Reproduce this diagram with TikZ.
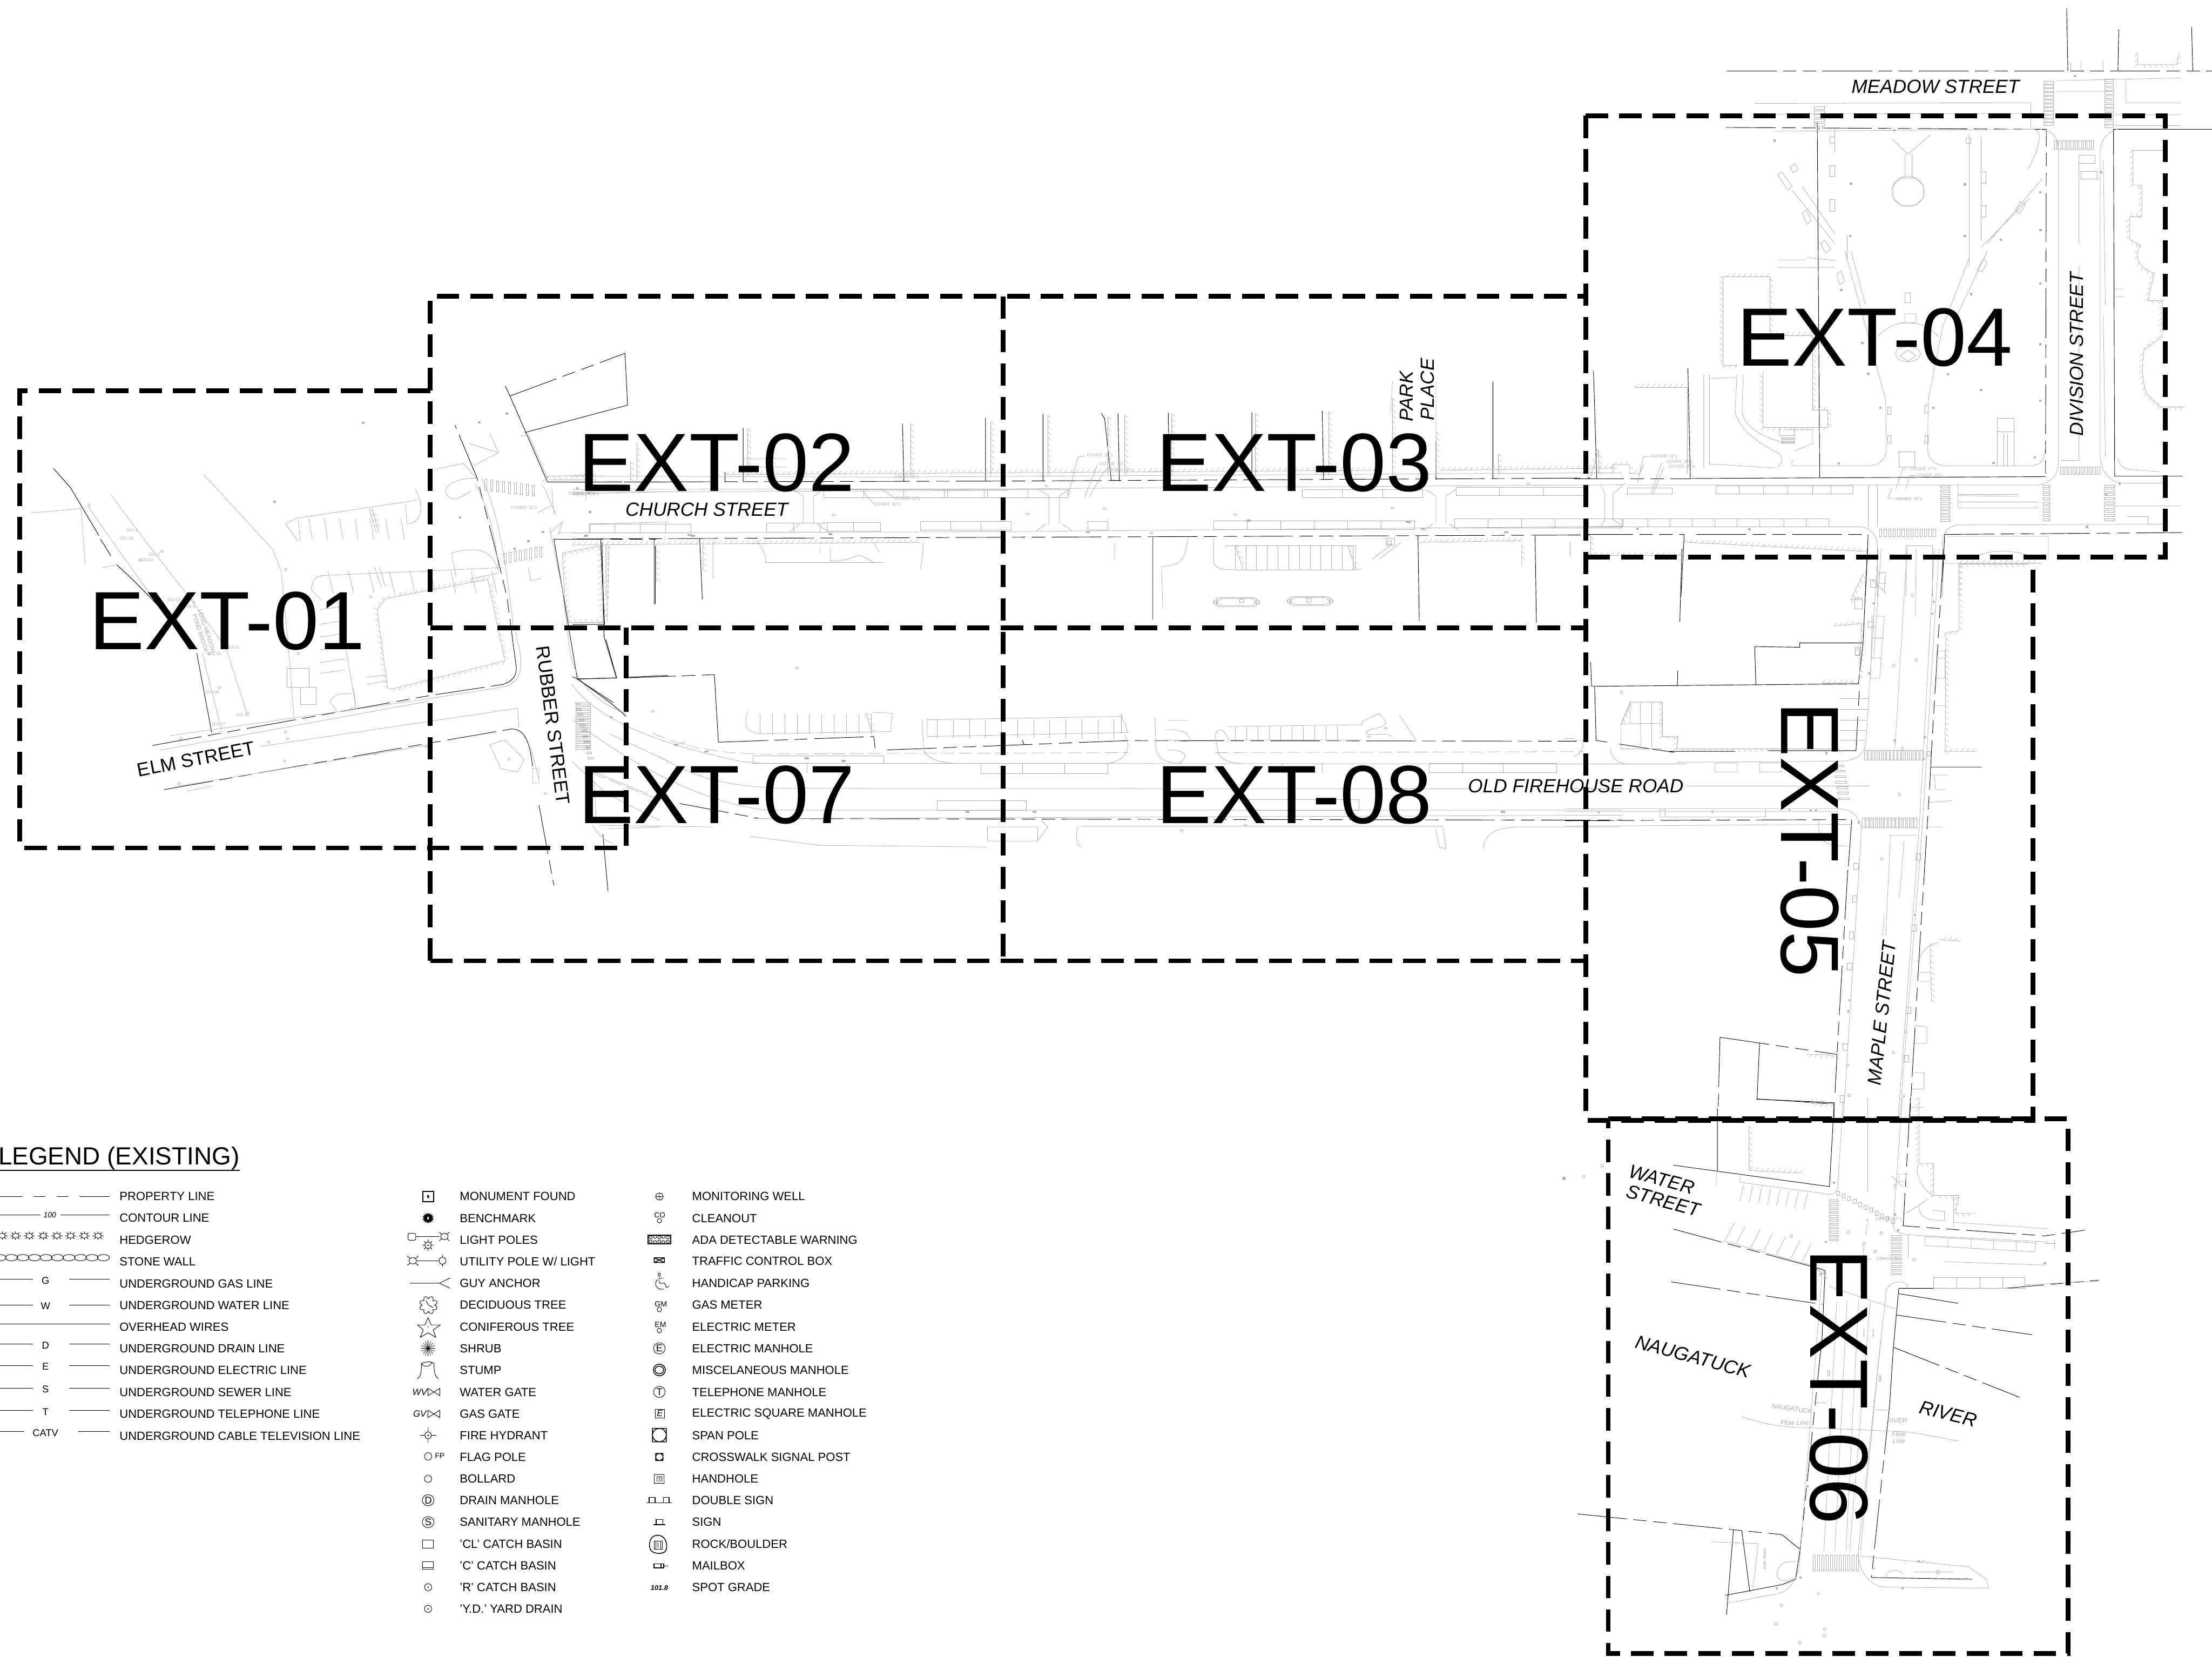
\documentclass[tikz,border=0pt]{standalone}
\usepackage{fontspec}
\setmainfont{Liberation Sans}
\usetikzlibrary{decorations.pathreplacing}
\definecolor{plangrey}{gray}{0.68}
\newcommand\spots[1]{\foreach \a/\b in {#1}{\fill[spot] (\a-3,\b-3) rectangle (\a+3,\b+3);}}
\newcommand\crosswalk[7]{\foreach \i in {1,...,#7}{\draw[gl] ({#1+(\i-1)*#3},{#2+(\i-1)*#4}) rectangle ++(#5,#6);}}
\newcommand\stalls[6]{\foreach \i in {1,...,#5}{\draw[gl] ({#1+(\i-1)*#3},#2) -- ++(#6,#4);}}
\tikzset{
  bl/.style={draw=black,line width=.3pt},
  pl/.style={bl,dash pattern=on 30pt off 4pt on 8pt off 4pt on 8pt off 4pt},
  gl/.style={draw=plangrey,line width=.25pt},
  gd/.style={gl,dash pattern=on 9pt off 2pt},
  spot/.style={fill=gray!60},
  hatchwall/.style={gl,postaction={draw=plangrey,line width=.18pt,decorate,decoration={border,segment length=3.4pt,amplitude=2.6pt,angle=50}}},
  hatchwallr/.style={gl,postaction={draw=plangrey,line width=.18pt,decorate,decoration={border,segment length=3.4pt,amplitude=2.6pt,angle=50,mirror}}},
  frame/.style={draw=black,line width=2.9pt,dash pattern=on 13.6pt off 6.7pt,line cap=butt},
  sheet/.style={inner sep=0pt,font=\fontsize{50}{50}\selectfont},
  street/.style={inner sep=0pt,font=\fontsize{11.5}{12}\selectfont,align=center},
  streeti/.style={street,font=\fontsize{11.5}{12}\selectfont\itshape},
  tiny/.style={inner sep=0pt,text=plangrey,font=\fontsize{2.6}{3}\selectfont},
  small/.style={inner sep=0pt,text=plangrey,font=\fontsize{4}{4.5}\selectfont\itshape},
  leg/.style={anchor=west,inner sep=0pt,font=\fontsize{7.2}{8}\selectfont},
  sym/.style={inner sep=0pt,font=\fontsize{6}{7}\selectfont},
  ll/.style={draw=black,line width=.3pt},
  zf/.style={shift={(1116,0)},xscale=.2884,yscale=.2696},
  zv/.style={shift={(0,236.7)},xscale=.302,yscale=.2588},
  zx/.style={shift={(1082,777.8)},xscale=.2588,yscale=.253},
  zs/.style={shift={(405.8,270.5)},xscale=.4745,yscale=.2373},
  ze/.style={shift={(1109.2,388.9)},xscale=.2157,yscale=.2588},
  zl/.style={shift={(0,798.1)},xscale=.1941,yscale=.151},
  zm/.style={shift={(280.7,831.9)},xscale=.1294,yscale=.207},
  zr/.style={shift={(449.8,831.9)},xscale=.1294,yscale=.207},
}
\begin{document}
\begin{tikzpicture}[x=.3mm,y=-.3mm]
\useasboundingbox (0,0) rectangle (1568,1174.4);
\fill[white] (0,0) rectangle (1568,1174.4);

%% ------- top right: the green, Meadow and Division Streets
\begin{scope}[zf]
 \draw[pl] (375,186) -- (1568,186);
 \draw[bl] (1210,22) -- (1213,186) (1338,78) -- (1336,186) (1517,70) -- (1520,186);
 \draw[pl] (373,335) -- (1160,340) -- (1158,1253);
 \draw[bl] (1158,1253) -- (285,1258);
 \draw[bl] (597,322) -- (603,1255) (279,968) -- (285,1258) (47,975) -- (55,1258);
 \draw[pl] (0,1258) -- (285,1258);
 \draw[bl] (1568,340) -- (1325,340) -- (1328,1252) -- (1495,1252);
 \draw[pl] (22,1405) -- (270,1405) (300,1405) -- (722,1405) (910,1405) -- (1495,1400);
 \draw[bl] (270,1405) -- (262,1568) (722,1405) -- (715,1568) (910,1405) -- (905,1530);
 % Meadow
 \draw[gl] (443,272) -- (1122,270) -- (1122,335) (443,300) -- (1120,298);
 \draw[gl] (1185,212) -- (1490,205) (1185,240) -- (1310,240) (1355,210) -- (1355,270) -- (1490,270)
   (1330,302) -- (1490,302) (1330,330) -- (1490,330) (1220,165) -- (1220,186) (1245,160) -- (1245,186) (1300,158) -- (1300,186);
 \crosswalk{590}{280}{0}{11}{24}{7}{5}
 \crosswalk{1153}{213}{0}{10}{24}{7}{12}
 \crosswalk{1303}{208}{0}{11}{22}{7}{12}
 \draw[hatchwallr] (1385,140) -- (1385,170) -- (1480,170) -- (1485,140);
 % green
 \draw[gl] (1145,340) .. controls (1180,345) and (1190,365) .. (1190,400) -- (1190,1210) .. controls (1190,1260) and (1160,1275) .. (1130,1275) -- (130,1275);
 \draw[gl] (490,345) -- (1130,340) .. controls (1150,345) and (1148,380) .. (1115,445);
 \draw[gl] (820,405) -- (780,365) (820,405) -- (875,355) (813,405) -- (813,465) (830,405) -- (830,465);
 \draw[gl] (820,503) circle[radius=40];
 \draw[gl] (803,468) -- (838,468) -- (858,488) -- (858,520) -- (838,540) -- (803,540) -- (783,520) -- (783,488) -- cycle;
 \draw[gl] (560,490) -- (640,615) (665,660) -- (765,1050) -- (767,1180) .. controls (767,1210) and (745,1225) .. (720,1225) -- (540,1225) .. controls (530,1222) and (535,1210) .. (538,1210);
 \draw[gl] (535,500) -- (640,640) (680,660) -- (715,800) (1150,470) -- (1015,640) (1120,520) -- (1000,650) (1015,660) -- (940,830) (970,680) -- (905,860) -- (870,1050) -- (868,1180) .. controls (868,1210) and (890,1225) .. (920,1225) -- (1125,1225) .. controls (1150,1220) and (1155,1210) .. (1158,1170);
 \draw[gl] (640,400) -- (640,340) (670,680) -- (670,620) (970,350) -- (970,700) (1000,360) -- (1000,630);
 \foreach \a/\b/\w/\h in {628/435/12/28,628/525/12/30,1000/452/12/30,1000/540/12/30,962/362/12/15,628/360/12/15,1240/408/40/22,1245/450/40/20,798/1188/38/40,812/770/14/25,770/1070/8/20,770/1145/8/20,862/1065/8/20,862/1145/8/20}
   {\draw[gl] (\a,\b) rectangle ++(\w,\h);}
 \draw[gl] (745,885) .. controls (790,835) and (850,835) .. (895,885) (800,850) -- (840,850) -- (840,825) -- (812,825) -- (812,850);
 \draw[gl] (790,930) .. controls (790,905) and (850,905) .. (850,930) .. controls (850,955) and (790,960) .. (790,930) (820,920) -- (840,935) -- (820,950) -- (800,935) -- cycle;
 \draw[gl] (500,460) -- (510,452) -- (535,490) -- (525,500) -- cycle (530,440) -- (542,430) -- (550,445) -- (538,455) -- cycle (560,560) -- (570,552) -- (582,580) -- (572,590) -- cycle (605,640) -- (615,632) -- (630,655) -- (618,665) -- cycle (645,720) -- (655,712) -- (665,740) -- (652,748) -- cycle (1085,555) -- (1095,530) -- (1108,538) -- (1095,562) -- cycle (990,710) -- (1005,680) -- (1015,690) -- (1002,715) -- cycle;
 \draw[gl] (500,683) -- (570,683) (500,703) -- (640,703) (570,677) -- (642,685);
 \draw[hatchwall] (400,960) -- (365,960) -- (365,727) -- (480,727) -- (480,882) -- (585,882) -- (585,1078) -- (622,1078) -- (622,1123) -- (463,1123) -- (463,975);
 \draw[gl] (465,1123) -- (505,1123) -- (505,1145) -- (540,1145) -- (540,1123) (510,1150) rectangle (540,1165);
 \foreach \i in {1,...,5}{\draw[gl] (510,{1148+3*\i}) -- (540,{1148+3*\i});}
 \draw[gl] (400,985) -- (395,1075) .. controls (395,1120) and (450,1165) .. (500,1190) .. controls (515,1200) and (510,1220) .. (500,1228) (415,985) -- (412,1080) .. controls (415,1120) and (460,1150) .. (520,1165) (332,985) -- (332,1220) -- (495,1230) (318,985) -- (318,1230) (335,995) -- (395,992) (540,1185) -- (590,1165) (520,1130) -- (585,1130) -- (585,1165);
 \draw[hatchwall] (150,1018) -- (277,1018) -- (277,1245);
 \draw[hatchwall] (38,1258) -- (60,1185) -- (60,1245) (95,1245) -- (95,1222) -- (135,1222) -- (135,1245) -- (160,1245) -- (170,1222);
 \draw[gl] (1040,1225) -- (1040,1100) -- (1080,1100) -- (1080,1225) (1055,1140) -- (1055,1225) (1065,1140) -- (1065,1225) (1040,1135) -- (1080,1135);
 \draw[gl] (1195,1210) -- (1240,1210) -- (1240,700) (1240,410) -- (1240,640);
 \crosswalk{1180}{370}{10}{0}{6}{22}{10}
 \crosswalk{1195}{1227}{10}{0}{6}{20}{10}
 % Division east
 \draw[gl] (1292,400) -- (1292,1200) .. controls (1295,1245) and (1320,1270) .. (1350,1270) -- (1460,1270);
 \draw[gl] (1292,400) .. controls (1292,370) and (1310,345) .. (1340,338) -- (1455,338) (1300,420) -- (1305,800) (1300,830) -- (1305,1200) (1335,1205) .. controls (1340,1230) and (1360,1235) .. (1370,1235) -- (1440,1240) (1328,760) -- (1350,760) (1330,780) -- (1350,780);
 \draw[hatchwallr] (1373,395) -- (1373,487) -- (1395,487) -- (1395,570) -- (1365,570) -- (1365,630) -- (1392,645) .. controls (1375,670) and (1385,705) .. (1425,718) -- (1410,790) -- (1445,790) -- (1445,885) -- (1400,920) .. controls (1395,960) and (1395,1000) .. (1405,1030) .. controls (1415,1050) and (1440,1065) .. (1440,1070) -- (1500,1070);
 \draw[gl] (1373,395) -- (1460,395);
 % Church / junction
 \draw[gl] (20,1385) -- (700,1385) .. controls (730,1385) and (745,1410) .. (745,1440) -- (745,1568);
 \draw[gl] (905,1568) -- (905,1425) .. controls (905,1395) and (925,1380) .. (950,1380) -- (1460,1378);
 \draw[gl] (722,1275) -- (722,1385) (745,1275) -- (745,1385);
 \draw[gl] (120,1363) rectangle (625,1385) (130,1282) rectangle (240,1298) (348,1277) rectangle (685,1298);
 \foreach \a in {180,235,290,345,400,455,515,570}{\draw[gl] (\a,1363) -- (\a,1385);}
 \foreach \a in {405,465,525,585,630}{\draw[gl] (\a,1277) -- (\a,1298);}
 \draw[gl] (65,1275) -- (75,1298) -- (75,1365) -- (65,1385) (95,1298) -- (95,1365) (95,1298) -- (125,1270) (95,1365) -- (120,1385);
 \crosswalk{900}{1277}{0}{11}{22}{6}{9}
 \crosswalk{750}{1390}{11}{0}{6}{20}{13}
 \crosswalk{1152}{1275}{0}{11}{16}{6}{9}
 \crosswalk{1302}{1275}{0}{11}{26}{6}{9}
 \draw[gl] (943,1270) -- (943,1335) -- (1140,1335) (943,1303) -- (1090,1305) (1330,1330) -- (1490,1330) (1360,1358) -- (1410,1358) -- (1410,1378);
 \draw[hatchwall] (40,1410) -- (40,1460) -- (265,1460) (265,1425) -- (720,1450);
 \draw[hatchwallr] (945,1568) -- (945,1483) -- (1115,1483);
 \draw[gl] (815,1435) -- (880,1435) -- (880,1568) (815,1435) -- (815,1568);
 \draw[gl] (915,1410) -- (1165,1410) -- (1165,1470) (985,1470) .. controls (990,1445) and (1100,1440) .. (1130,1470);
 \draw[gl] (780,1285) -- (770,1310) -- (820,1312) (790,1285) -- (808,1232) -- (820,1232) (815,1285) -- (825,1250) -- (838,1250);
 \draw[gl] (155,1270) -- (170,1200) -- (185,1200) (188,1300) -- (215,1215) (193,1300) -- (220,1228);
 \draw[gl] (942,1300) -- (1090,1300) (945,1320) -- (1140,1320);
 \spots{492/370,680/483,960/485,678/620,960/620,1048/630,1146/605,1145/505,1145/745,1145/905,1145/1053,1132/1203,975/773,656/762,708/902,722/983,918/984,1000/1025,882/1072,752/1072,650/1218,1030/1217,787/342,600/338,1295/453,1307/1300,1340/1272,1260/1385,285/1212,155/1390,430/1392,1230/200}
 \node[tiny,anchor=west] (c1) at (188,1200) {COVER: 24"±};
 \node[tiny,anchor=west] (c2) at (225,1213) {COVER: 36"±};
 \node[tiny,anchor=west] (c3) at (232,1226) {COVER: 24"±};
 \node[tiny,anchor=west] (c4) at (825,1232) {COVER: 27"±};
 \node[tiny,anchor=west] (c5) at (840,1249) {COVER: 28"±};
 \node[tiny,anchor=west] (c6) at (790,1311) {COVER: 30"±};
\end{scope}

%% ------- west end: Elm Street, Rubber Street
\begin{scope}[zv]
 \draw[bl] (126,369) -- (165,420) -- (232,552) (236,562) -- (260,607) (274,632) -- (316,678) -- (372,745) (462,875) -- (497,1092);
 \draw[pl] (358,1127) -- (1010,990) -- (1180,960);
 \draw[bl] (1180,960) .. controls (1205,950) and (1212,935) .. (1212,915);
 \draw[pl] (1212,915) -- (1190,720) -- (1165,600) -- (1120,395) -- (1068,250);
 \draw[pl] (385,1248) -- (1010,1120) -- (1200,1082);
 \draw[bl] (1200,1082) .. controls (1235,1080) and (1245,1130) .. (1250,1185);
 \draw[bl] (1186,143) -- (1197,170) -- (1285,405);
 \draw[pl] (1285,405) -- (1568,405);
 \draw[pl] (1197,170) -- (1467,53);
 \draw[bl] (1467,53) -- (1473,195) -- (1232,270);
 \draw[bl] (1300,562) -- (1320,700) -- (1355,945) -- (1447,942) -- (1418,830) -- (1413,570);
 \draw[pl] (1300,562) -- (1540,562);
 \draw[bl] (1355,945) -- (1440,1010) (1538,580) -- (1538,740);
 \draw[pl] (1476,940) -- (1568,935);
 \draw[bl] (1415,1370) -- (1427,1525);
 \draw[pl] (1265,1290) -- (1300,1510);
 % grey
 \draw[gl] (75,490) -- (190,478) -- (200,632) (240,640) -- (275,632);
 \draw[gl] (205,470) -- (280,595) -- (400,790) (260,440) -- (330,550) -- (450,730) -- (530,860) -- (580,1040);
 \draw[gl] (478,385) -- (640,590) -- (660,650) -- (680,900) -- (690,1050);
 \draw[gl] (475,875) -- (520,1085) (400,1100) -- (1000,1000) -- (1190,965) .. controls (1220,950) and (1225,920) .. (1222,880) -- (1210,815);
 \draw[gl] (375,1140) -- (1010,1005) (610,1130) -- (1215,1025) -- (1218,1080);
 \draw[gl] (410,1240) -- (1010,1125) (440,1252) -- (498,1238);
 \draw[gl] (1150,1125) -- (1185,1112) -- (1230,1165) -- (1215,1200) -- (1175,1190) -- cycle (1245,1130) -- (1265,1220) (1250,1190) rectangle (1265,1230);
 \stalls{725}{505}{36}{58}{7}{8}
 \draw[gl] (670,520) -- (695,505) -- (980,455) (670,520) -- (700,568) (700,510) -- (705,568);
 \draw[gl] (975,425) .. controls (1000,480) and (985,520) .. (955,520) -- (952,465);
 \draw[hatchwall] (867,480) -- (882,540) (873,478) -- (888,538);
 \stalls{770}{650}{48}{60}{9}{12}
 \draw[gl] (750,662) -- (1180,640) (1060,600) .. controls (1120,580) and (1155,590) .. (1170,650) (1060,600) -- (1070,665) (730,700) .. controls (735,670) and (745,660) .. (755,665) (730,700) -- (755,730);
 \draw[gl] (880,640) -- (895,695) (890,638) -- (905,692) (1105,680) -- (1105,670) -- (1170,655);
 \foreach \y in {755,795,830,865,900,930}{\draw[gl] (750,\y) -- (810,{\y-10});}
 \draw[gl] (790,715) -- (835,1020) (775,1010) .. controls (780,985) and (800,985) .. (825,985) (775,1010) -- (790,1030) (835,1020) -- (815,1030) (860,940) -- (905,935);
 \draw[gl] (673,915) rectangle (725,968) (705,968) rectangle (742,1015);
 \draw[gl] (830,970) -- (835,1020) (860,960) -- (910,950);
 \draw[hatchwall] (910,970) -- (885,755) -- (905,725) -- (1145,672) -- (1185,895) -- (920,972) -- cycle;
 \draw[gl] (1023,370) -- (1088,355) -- (1118,395) (1045,430) .. controls (1055,400) and (1090,395) .. (1118,395) (1045,430) .. controls (1050,455) and (1070,460) .. (1105,430) (1100,300) -- (1170,325) -- (1113,360) (1150,273) -- (1170,325) (1115,410) .. controls (1150,480) and (1165,580) .. (1170,640) (1130,395) .. controls (1165,470) and (1185,600) .. (1205,800);
 \crosswalk{1137}{398}{14}{2}{5}{30}{9}
 \crosswalk{1183}{600}{12}{-2.5}{5}{28}{8}
 \draw[gl] (1222,280) -- (1240,275) -- (1285,395) -- (1272,405) (1290,530) -- (1320,700) -- (1335,840) .. controls (1340,950) and (1400,1010) .. (1470,1040) (1240,640) -- (1245,675) -- (1270,670);
 \draw[gl] (1275,415) -- (1305,495) (1295,420) -- (1300,495) (1262,490) -- (1295,470) (1290,545) -- (1320,515) -- (1310,550) (1310,545) -- (1568,545);
 \draw[gl] (1345,438) -- (1568,432) (1375,438) -- (1375,455) (1385,520) -- (1568,515) (1385,520) -- (1385,545);
 \draw[hatchwallr] (1285,390) -- (1400,385) (1320,600) -- (1410,580) -- (1415,790) -- (1335,790) -- (1325,720) -- (1320,600) (1430,580) -- (1425,790);
 \draw[gl] (1290,400) -- (1400,400);
 \draw[hatchwall] (1480,350) -- (1480,400) (1495,300) -- (1495,400);
 \crosswalk{1350}{1010}{3}{15}{12}{4}{11}
 \draw[gl] (1430,1095) -- (1568,1170) (1395,1200) -- (1520,1260) (1395,1225) -- (1400,1340) (1430,1355) -- (1550,1350);
 \spots{852/243,645/460,1125/242,1190/218,1080/503,1208/588,1240/568,1275/542,1385/488,1435/1050,1383/436,1355/423}
 \foreach \a/\b in {210/468,380/595,328/620,455/735,490/875,515/968,582/1040,670/645,700/875,870/720,670/1090,425/1108,630/1118,675/1108,420/1232,668/1170,880/1150,1000/1130,1195/1165,1280/1258}
   {\draw[gl] (\a,\b) circle[radius=3];}
 \node[tiny] (l1) at (310,537) {S01-1};
 \node[tiny] (l2) at (298,559) {S01-01};
 \node[tiny] (l3) at (362,604) {S01-2};
 \node[tiny] (l4) at (344,619) {S01-02};
 \node[tiny] (l5) at (408,729) {S01-03};
 \node[tiny] (l6) at (445,746) {S01-3};
 \node[tiny] (l7) at (548,858) {S01-5};
 \node[tiny] (l8) at (503,877) {S01-06};
 \node[tiny] (l9) at (498,982) {S01-08};
 \node[tiny] (l10) at (513,1068) {S01-07};
 \node[tiny] (l11) at (567,1044) {S01-8};
 \node[tiny] (l12) at (1230,475) {COVER: 31"±};
 \node[tiny] (l13) at (1365,437) {COVER: 35"±};
 \node[inner sep=0pt,text=plangrey,font=\fontsize{3.6}{4}\selectfont,align=center,rotate=-72] (brook) at (478,817) {LONG MEADOW\\POND BROOK};
\end{scope}

%% ------- Church Street and Old Firehouse Road
\begin{scope}[zs]
 \draw[pl] (0,300) -- (640,297) -- (1520,288);
 \draw[pl] (0,470) -- (1520,458);
 \draw[bl] (255,138) -- (255,300) (228,270) -- (228,300) (493,125) -- (495,297) (617,108) -- (617,297) (703,97) -- (703,297) (790,95) -- (795,110) -- (805,297) (815,95) -- (817,297) (890,92) -- (892,295) (1015,92) -- (1015,295) (1120,87) -- (1122,293) (1290,180) -- (1290,292) (1375,0) -- (1375,290);
 \draw[bl] (42,470) -- (48,725) -- (0,725) (122,470) -- (122,665) (190,470) -- (194,650) (867,465) -- (867,710) (1263,462) -- (1265,715) (1438,460) -- (1440,720);
 \draw[gl] (470,285) -- (1568,272) (0,282) -- (470,285);
 \foreach \a/\t in {262/140,298/170,505/125,625/120,710/100,800/105,825/100,895/95,1020/95,1130/90,1225/50,1290/150,1383/215}
   {\draw[hatchwall] (\a,\t) -- (\a,282);}
 \draw[hatchwall] (230,278) -- (640,272) (650,272) -- (1210,265) (1295,265) -- (1560,258);
 \draw[gl] (255,230) -- (320,230) (255,255) -- (320,255) (1225,0) -- (1222,100) (1290,0) -- (1290,150);
 % curbs
 \draw[gl] (0,322) -- (650,320) -- (1568,308) (0,330) -- (650,325);
 \draw[gl] (0,452) -- (650,448) -- (1568,432);
 \foreach \a in {345,712,1290}{\draw[gl] (\a,342) -- (\a,425) (\a+15,342) -- (\a+15,425) (\a-15,322) -- (\a,342) (\a+30,322) -- (\a+15,342) (\a-20,448) -- (\a-5,425) (\a+35,446) -- (\a+20,425);}
 \foreach \a/\b/\c/\n in {375/325/60/4,560/325/60/3,1090/325/60/3,1320/318/65/3}
  {\foreach \i in {1,...,\n}{\draw[gl] ({\a+(\i-1)*\c},{\b-2}) rectangle ++(\c,24);}}
 \foreach \a/\b/\c/\n in {25/425/38/4,290/423/40/2,380/420/40/2,520/418/45/3,770/418/30/1,958/415/50/6,1318/410/50/5}
  {\foreach \i in {1,...,\n}{\draw[gl] ({\a+(\i-1)*\c},{\b}) rectangle ++(\c,26);}}
 \draw[gl] (740,345) -- (755,225) -- (765,222) (765,345) -- (785,245) (772,345) -- (795,265);
 \draw[gl] (435,330) -- (450,365) (460,320) -- (480,345);
 % south side of Church
 \draw[hatchwall] (0,488) -- (520,480);
 \draw[gl] (210,475) -- (210,590) (275,475) .. controls (285,500) and (290,520) .. (288,540) -- (465,540) (370,495) -- (370,515) (385,495) -- (385,535) .. controls (410,540) and (425,515) .. (432,520) -- (450,540) (450,480) -- (458,510) (525,480) -- (520,560) (810,480) -- (810,535) (920,465) .. controls (915,520) and (915,550) .. (880,552) -- (882,680);
 \draw[hatchwall] (50,488) -- (50,640) (125,488) -- (125,600) (195,488) -- (195,560) (1263,480) -- (1420,475) (1418,485) -- (1418,550);
 \draw[gl] (958,470) -- (958,540) .. controls (960,560) and (975,562) .. (990,562) (975,490) -- (1170,490) (1170,490) -- (1170,562) -- (1180,560) (1195,530) -- (1225,485) (1205,530) -- (1238,480);
 \stalls{990}{490}{16}{72}{12}{0}
 \draw[gl] (990,562) -- (1170,562);
 \draw[hatchwall] (990,490) -- (1002,560);
 \draw[hatchwall] (1158,490) -- (1170,560);
 \draw[gl,rounded corners=4pt] (958,645) rectangle (1026,672) (962,648) rectangle (1022,669) (1068,642) rectangle (1136,669) (1072,645) rectangle (1132,666);
 \draw[gl] (1490,480) -- (1490,520);
 \foreach \a/\b in {1000/655,1100/653,1220/480}{\draw[gl] (\a-3,\b-5) rectangle (\a+3,\b+5);}
 \draw[gl] (1215,468) rectangle (1228,488);
 \spots{180/460,385/455,1010/415,770/450,90/300,20/460,175/458,1248/418,1270/440,1395/450}
 \foreach \a/\b in {680/395,795/380,990/397,1225/378,390/398,375/422,1250/420,865/452,708/312,1428/305}{\draw[gl] (\a,\b) circle[radius=2.5];}
 \node[tiny,anchor=west] (d1) at (480,284) {COVER:35"±};
 \node[tiny,anchor=west] (d2) at (482,348) {COVER:24"±};
 \node[tiny,anchor=west] (d3) at (450,366) {COVER: 30"±};
 \node[tiny,anchor=west] (d4) at (768,220) {COVER: 36"±};
 \node[tiny,anchor=west] (d5) at (787,245) {COVER: 30"±};
 \node[tiny,anchor=west] (d6) at (797,263) {COVER: 24"±};
 \node[tiny,anchor=west] (d7) at (0,335) {COVER: 24"±};
 % Firehouse Road
 \draw[pl] (80,885) -- (212,875);
 \draw[bl] (212,875) -- (218,1077) (50,770) -- (66,885) -- (8,888) -- (0,882);
 \draw[bl] (8,888) .. controls (25,915) and (60,960) .. (80,1000);
 \draw[pl] (218,1077) -- (450,1060);
 \draw[bl] (450,1060) -- (452,1095);
 \draw[pl] (470,1100) -- (640,1087) -- (830,1072) -- (1500,1074);
 \draw[bl] (672,1072) -- (675,1085);
 \draw[pl] (160,1260) -- (280,1305) -- (1568,1310);
 \draw[gl] (0,905) .. controls (25,980) and (90,1060) .. (220,1120) .. controls (250,1135) and (260,1140) .. (300,1140) -- (1568,1142);
 \draw[gl] (0,1010) .. controls (60,1100) and (170,1250) .. (290,1280) -- (1568,1280);
 \draw[gl] (130,1120) .. controls (180,1180) and (230,1215) .. (340,1215) -- (1340,1216) (1568,1216) -- (1480,1216);
 \draw[gl,dash pattern=on 8pt off 3pt] (120,1050) .. controls (170,1095) and (220,1110) .. (280,1112) -- (830,1108) (960,1108) -- (1510,1105) (30,1170) -- (130,1250);
 \draw[gl] (0,1135) -- (50,1230) -- (130,1310) (270,1305) -- (1568,1295);
 % parking north
 \draw[gl] (262,985) .. controls (255,1030) and (260,1050) .. (285,1052) -- (475,1045) -- (478,990) -- (448,988);
 \stalls{280}{992}{18.5}{60}{10}{0}
 \draw[hatchwall] (438,990) -- (448,1050);
 \draw[gl] (530,1005) -- (530,1060) -- (830,1048) -- (820,995) -- (820,1050);
 \stalls{545}{1010}{24}{55}{12}{0}
 \draw[gl] (530,1010) -- (820,1000) (522,1010) -- (525,1100) .. controls (528,1125) and (550,1140) .. (575,1140) (825,1055) .. controls (835,1090) and (830,1130) .. (800,1140) (870,1005) -- (872,1100) .. controls (875,1130) and (890,1140) .. (910,1140) (890,1012) -- (920,1012) (885,1040) .. controls (920,1035) and (925,1065) .. (920,1075) (885,1070) -- (920,1075) (890,1100) .. controls (920,1100) and (920,1125) .. (905,1140);
 \draw[gl] (960,1060) .. controls (962,1030) and (975,1035) .. (980,1070) -- (1180,1070) (960,1060) -- (965,1110) .. controls (968,1130) and (985,1140) .. (1000,1140) (980,1030) -- (1180,1025) (1180,1025) .. controls (1175,1010) and (1190,1010) .. (1205,990) -- (1215,1015) .. controls (1215,1040) and (1190,1030) .. (1185,1050) .. controls (1195,1060) and (1215,1045) .. (1225,1060) (1235,995) -- (1260,1070);
 \stalls{990}{1030}{17}{40}{10}{0}
 \draw[gl] (270,1118) rectangle (465,1140) (610,1140) rectangle (800,1170) (545,1252) rectangle (678,1280) (1010,1248) rectangle (1175,1280) (1280,1140) rectangle (1470,1168);
 \foreach \a in {350,410,672,735,1060,1120,1330,1390}{\draw[gl] (\a,1140) -- (\a,1170);}
 \draw[gl] (620,1330) rectangle (695,1372) (695,1372) -- (710,1330) -- (700,1310) (755,1330) .. controls (750,1360) and (755,1390) .. (760,1390) (760,1328) -- (1300,1328) -- (1305,1395) -- (1295,1390) -- (1290,1335) (1360,1395) .. controls (1365,1350) and (1375,1335) .. (1410,1330) -- (1568,1330) (265,1358) -- (370,1385) -- (620,1390) (40,1325) -- (210,1330) (30,1325) .. controls (40,1360) and (50,1370) .. (60,1380);
 \crosswalk{5}{960}{0}{11}{22}{6}{13}
 \spots{405/1133,350/1125,155/1085,200/1105,1390/1285,690/1285,590/1285}
 \foreach \a/\b in {120/985,165/1080,335/855,1190/1060,1215/1035,910/1340,1005/1325}{\draw[gl] (\a,\b) circle[radius=2.5];}
\end{scope}

%% ------- Maple Street, centre
\begin{scope}[ze]
 \draw[bl] (385,0) -- (378,200) (995,0) -- (980,260) -- (965,370) -- (88,377) (85,310) -- (88,377) (98,377) -- (103,525) (370,377) -- (371,335) (628,372) -- (624,268) -- (772,270) -- (772,258) -- (980,258);
 \draw[bl] (103,525) -- (140,530) (178,535) -- (360,558) (345,555) -- (560,555) (670,553) -- (957,553) -- (963,460) (968,390) -- (965,430);
 \draw[pl] (0,745) -- (943,742);
 \draw[bl] (943,742) -- (932,870) (1202,598) -- (1370,598);
 \draw[pl] (1245,0) -- (1205,555) -- (1200,640) -- (1188,800) -- (1165,1110) -- (1133,1568);
 \draw[pl] (930,880) -- (895,1380);
 \draw[bl] (895,1385) -- (888,1490);
 \draw[pl] (510,1338) -- (895,1385);
 \draw[pl] (510,1338) -- (504,1540);
 \draw[bl] (640,1353) -- (632,1507) -- (885,1520) -- (885,1568);
 % curbs
 \draw[gl] (1030,0) -- (1002,370) -- (990,530) .. controls (985,565) and (955,582) .. (905,582) -- (370,585) (975,770) -- (915,1568) (1230,0) -- (1175,760) -- (1100,1568);
 \draw[gl] (1040,0) -- (1015,300) (1215,0) -- (1165,760) -- (1095,1568);
 \draw[gl] (0,712) -- (900,712) .. controls (950,712) and (975,745) .. (975,770);
 \draw[gl] (0,720) -- (900,720) (0,760) -- (940,755);
 \draw[gl] (400,650) -- (1000,650) (0,590) -- (400,590);
 \draw[gl] (1125,0) -- (1085,545) (1155,0) -- (1152,185) (1070,785) -- (1055,1060) (1155,785) -- (1070,785) (1115,800) -- (1100,955) (1050,1000) -- (1045,1060);
 \draw[gl] (1033,65) rectangle (1055,95) (1010,85) -- (1055,122) (1052,75) -- (1050,122) (1010,185) -- (1050,185) -- (1035,355) -- (1005,355) -- cycle (1015,245) -- (1048,245) (1010,300) -- (1040,300);
 \draw[hatchwall] (980,70) -- (940,140) -- (975,140) (885,212) -- (975,205) -- (968,360) (845,368) -- (965,368);
 \draw[gl] (952,135) rectangle (978,165) (955,270) rectangle (970,292);
 \draw[gl] (215,420) -- (320,420) -- (322,515) -- (372,515) -- (368,548) -- (900,548) (185,480) -- (215,420) -- (215,480) (185,480) -- (320,478) (248,420) -- (250,545) (285,420) -- (285,545) (185,480) -- (185,548) -- (320,548);
 \draw[hatchwallr] (320,420) -- (320,515) -- (372,515) -- (368,548) -- (905,548);
 \draw[hatchwall] (215,425) -- (185,480);
 \draw[gl] (905,410) -- (1000,410) (905,440) -- (998,440) (905,470) -- (992,470) (905,498) -- (990,498) (905,525) -- (985,525);
 \draw[gl] (493,587) rectangle (567,612) (640,587) rectangle (712,612) (312,715) rectangle (330,735) (330,735) -- (660,735) (660,712) -- (660,735) (835,745) .. controls (830,800) and (850,815) .. (935,815);
 \draw[gl] (150,545) .. controls (150,570) and (175,590) .. (210,590) (60,525) .. controls (60,560) and (40,565) .. (30,570) (30,525) -- (60,525) (0,520) -- (30,520);
 \crosswalk{985}{553}{12.2}{0}{8}{26}{16}
 \crosswalk{978}{738}{12.2}{0}{8}{26}{15}
 \crosswalk{882}{592}{3}{15}{35}{5}{7}
 \draw[hatchwall] (1295,45) -- (1295,225) -- (1252,230) -- (1250,555) -- (1355,555) (1295,40) -- (1568,40);
 \draw[gl] (1245,0) -- (1245,40) -- (1568,40) (1222,280) rectangle (1250,355) (1222,300) -- (1250,300) (1218,430) -- (1250,430) (1202,620) -- (1260,620) (1215,620) -- (1218,660) -- (1250,660) (1200,695) -- (1270,690) (1185,762) -- (1240,762);
 \draw[hatchwall] (1200,1082) -- (1205,1240) (1230,1070) -- (1302,1075);
 \draw[gl] (1160,1130) .. controls (1175,1100) and (1195,1085) .. (1230,1078) (1150,1305) -- (1190,1310) -- (1190,1355) -- (1148,1355) (1140,1435) -- (1180,1435) -- (1180,1480) -- (1140,1480) (1165,1160) -- (1200,1160) (1165,1185) -- (1200,1185) (1135,1530) -- (1180,1530);
 \draw[hatchwall] (885,1390) -- (860,1385) -- (795,1385) (885,1520) -- (810,1520);
 \foreach \a/\b/\w/\h in {1005/85/18/20,998/200/17/15,955/275/14/15,950/862/16/16,945/950/15/18,935/1050/15/18,928/1135/16/18,913/1355/16/18,905/1497/14/20,1155/835/15/18,1140/1030/15/18,1122/1255/15/18,1115/1388/15/18,1190/555/12/12}
   {\draw[gl] (\a,\b) rectangle ++(\w,\h);}
 \spots{1000/342,1015/150,1085/525,1212/145,1208/178,1183/517,1180/575,1150/1003,1115/1500,935/1237,932/1267,905/555,860/560,738/715,808/718,825/716,112/722,484/720,965/750}
 \foreach \a/\b in {1080/320,1155/305,1142/128,1110/547,1100/673,1042/850,186/393,1080/1380,935/1497,930/1415,1120/1322}{\draw[gl] (\a,\b) circle[radius=4];}
\end{scope}

%% ------- south end: the bridge
\begin{scope}[zx]
 \draw[bl] (630,5) -- (843,15) -- (830,250) -- (403,190) (523,30) -- (523,205);
 \draw[pl] (403,369) -- (778,473);
 \draw[bl] (778,473) -- (818,485) -- (810,670);
 \draw[pl] (810,670) -- (750,1265);
 \draw[bl] (750,1265) -- (737,1350) -- (700,1365) -- (545,1395);
 \draw[pl] (397,517) -- (812,580);
 \draw[pl] (140,1167) -- (700,1225);
 \draw[bl] (700,1225) -- (748,1265) (567,1212) -- (548,1450) (590,1215) -- (612,1385);
 \draw[pl] (1052,0) -- (1032,360) -- (1420,388) -- (1530,372);
 \draw[bl] (1020,535) -- (1005,700) -- (995,860);
 \draw[pl] (995,860) -- (945,1345);
 \draw[bl] (945,1345) -- (1220,1350) (1020,550) -- (1183,577);
 \draw[pl] (1015,610) -- (1385,665);
 \draw[pl] (1005,700) -- (1350,840);
 \draw[pl] (1020,535) -- (1310,535) -- (1568,512);
 % grey
 \draw[gl] (868,0) -- (853,250) .. controls (850,270) and (835,275) .. (820,270) -- (585,238) -- (585,220) (520,250) -- (520,210);
 \draw[gl] (810,490) -- (748,1300) .. controls (745,1360) and (710,1390) .. (680,1392) -- (545,1418);
 \draw[gl] (1030,0) -- (1005,350) .. controls (1000,375) and (1020,380) .. (1040,385) -- (1430,405);
 \draw[gl] (1045,535) .. controls (1045,515) and (1025,515) .. (1005,520) .. controls (985,530) and (985,545) .. (985,545) -- (908,1280) .. controls (915,1340) and (945,1370) .. (985,1372) -- (1265,1375);
 \draw[gl] (935,0) -- (935,265);
 \draw[gl] (850,570) -- (815,1270) (878,570) -- (845,1270) (910,570) -- (875,1270) (942,570) -- (885,1270) (830,530) -- (1010,592) (970,680) -- (915,1270);
 \crosswalk{785}{1283}{11.8}{0}{6}{43}{11}
 \crosswalk{830}{287}{0}{11}{24}{5}{11}
 \crosswalk{850}{262}{15}{8}{8}{12}{11}
 \crosswalk{1000}{387}{0}{10.5}{26}{5}{11}
 \draw[gl] (590,895) .. controls (640,910) and (680,925) .. (770,925) -- (1040,937) .. controls (1100,945) and (1140,955) .. (1185,963);
 \draw[hatchwall] (610,80) -- (610,205) -- (750,212) (760,15) -- (830,15);
 \draw[hatchwallr] (1075,0) -- (1075,185) -- (1115,185) -- (1115,275) -- (1185,275) -- (1175,325) -- (1230,325);
 \draw[gl] (1075,185) .. controls (1060,210) and (1085,260) .. (1115,275) (1075,300) .. controls (1075,340) and (1100,345) .. (1145,345) -- (1145,320) -- (1110,315) (1170,275) -- (1170,365) (1170,350) -- (1430,368) (1145,460) -- (1420,470) (1040,325) -- (1100,285);
 \foreach \a/\b in {595/245,620/248,645/252,670/255,695/258,720/262,745/265,770/268}{\draw[gl] (\a,\b) -- (\a-10,\b+45);}
 \foreach \a/\b in {570/350,600/360,640/370,675/380,710/390,750/400,780/410}{\draw[gl] (\a,\b) -- (\a-25,\b+50);}
 \draw[gl] (540,402) -- (778,470) -- (822,500) (778,470) -- (810,480) -- (822,510);
 \draw[gl] (1092,390) -- (1395,408) -- (1392,433) -- (1092,415) -- cycle (1155,395) -- (1155,418) (1218,398) -- (1218,422) (1280,402) -- (1280,427) (1342,405) -- (1342,430);
 \draw[gl] (1115,505) rectangle (1365,535) (1178,505) -- (1178,535) (1242,505) -- (1242,535) (1305,505) -- (1305,535) (1045,385) -- (1045,450);
 \draw[gl] (1365,525) -- (1568,515) (930,345) -- (935,340) -- (930,385) (920,410) -- (925,450) -- (945,455) (965,450) -- (985,450) (915,1285) -- (1210,1315) -- (1260,1350) -- (1265,1375) (1090,1295) -- (1080,1305) (1000,220) -- (1030,250) (1020,215) rectangle (1040,235);
 \draw[gl] (505,1245) -- (635,1250) -- (620,1380) (650,1265) rectangle (654,1290) (650,1300) rectangle (654,1320) (690,1322) .. controls (695,1300) and (725,1300) .. (740,1300) (690,1322) .. controls (675,1350) and (705,1365) .. (735,1345) (985,1345) .. controls (985,1320) and (1020,1320) .. (1030,1335) (1060,1330) -- (1170,1330);
 \draw[gl] (800,1390) circle[radius=3] (698,1423) circle[radius=4] (684,1475) circle[radius=4] (817,1490) circle[radius=4] (815,1508) circle[radius=4] (749,1528) circle[radius=4] (207,192) circle[radius=4] (157,222) circle[radius=4] (882,378) circle[radius=4] (972,380) circle[radius=4] (1010,247) circle[radius=4] (925,410) circle[radius=4] (726,388) circle[radius=4] (955,432) circle[radius=4] (1062,455) circle[radius=4] (1128,1330) circle[radius=5];
 \fill[plangrey] (103,227) circle[radius=5];
 \spots{842/240,1018/372,1010/328,820/405,805/495,1420/465,770/1090,750/1345,686/1375,1030/1375,1075/1300,1205/1348,950/1320}
 \draw[gl] (1420,410) -- (1450,410) (1447,398) -- (1447,425);
 \draw[gl] (925,650) -- (925,670) (950,650) -- (950,670) (825,765) rectangle (830,780) (965,780) rectangle (970,795) (790,855) -- (820,855) (955,875) -- (990,875);
 \node[small,rotate=-8] (f1) at (727,872) {NAUGATUCK};
 \node[small] (f2) at (735,912) {Flow Line};
 \node[small] (f3) at (1015,905) {RIVER};
 \node[small,align=center] (f4) at (1020,953) {Flow\\Line};
 \node[tiny,anchor=west] (f5) at (955,340) {COVER: 47"±};
 \node[tiny,anchor=west] (f6) at (958,452) {COVER: 34"±};
\end{scope}

%% ------- legend, left column
\node[anchor=east,inner sep=0pt,font=\fontsize{15}{16}\selectfont] (legtitle) at (170,820.8) {LEGEND (EXISTING)};
\coordinate (ula) at (0,829.5); \coordinate (ulb) at (170,829.5);
\draw[ll,line width=.55pt] (ula) -- (ulb);
\foreach \y/\t in {847.7/{PROPERTY LINE},863.2/{CONTOUR LINE},879/{HEDGEROW},894.3/{STONE WALL},909.8/{UNDERGROUND GAS LINE},925.3/{UNDERGROUND WATER LINE},940.5/{OVERHEAD WIRES},956/{UNDERGROUND DRAIN LINE},971.3/{UNDERGROUND ELECTRIC LINE},986.8/{UNDERGROUND SEWER LINE},1002.2/{UNDERGROUND TELEPHONE LINE},1017.7/{UNDERGROUND CABLE TELEVISION LINE}}
  {\node[leg] at (84.5,\y) {\t};}
\begin{scope}[zl]
 \draw[ll] (0,330) -- (83,330) (122,330) -- (166,330) (207,330) -- (250,330) (290,330) -- (400,330);
 \draw[ll] (0,417) -- (148,417) (220,417) -- (400,417);
 \node[sym,font=\fontsize{4.6}{5}\selectfont\itshape] (n100) at (182,417) {100};
 \foreach \a in {8,57,107,158,208,258,308,358}{
   \draw[ll] (\a,515) circle[x radius=12,y radius=11];
   \foreach \r in {0,45,...,315}{\draw[ll] ({\a+12*cos(\r)},{515+11*sin(\r)}) -- ({\a+20*cos(\r)},{515+21*sin(\r)});}}
 \foreach \a in {0,42,...,378}{\draw[ll] (\a,618) circle[x radius=22,y radius=15];}
 \foreach \y/\t in {720/G,840/W,1024/D,1124/E,1230/S,1336/T}{\draw[ll] (0,\y) -- (120,\y) (252,\y) -- (400,\y); \node[sym] at (166,\y+6) {\t};}
 \draw[ll] (0,929) -- (400,929);
 \draw[ll] (0,1434) -- (87,1434) (285,1434) -- (400,1434);
 \node[sym] (catv) at (166,1440) {CATV};
\end{scope}

%% ------- legend, middle column
\foreach \y/\t in {848/{MONUMENT FOUND},863.4/{BENCHMARK},878.7/{LIGHT POLES},894/{UTILITY POLE W/ LIGHT},909.5/{GUY ANCHOR},925/{DECIDUOUS TREE},940.4/{CONIFEROUS TREE},955.7/{SHRUB},971/{STUMP},986.7/{WATER GATE},1002/{GAS GATE},1017.4/{FIRE HYDRANT},1032.7/{FLAG POLE},1048/{BOLLARD},1063.3/{DRAIN MANHOLE},1078.9/{SANITARY MANHOLE},1094.4/{'CL' CATCH BASIN},1109.7/{'C' CATCH BASIN},1125/{'R' CATCH BASIN},1140.5/{'Y.D.' YARD DRAIN}}
  {\node[leg] at (325.7,\y) {\t};}
\begin{scope}[zm]
 \draw[ll,line width=.6pt] (146,60) rectangle (206,96);
 \draw[ll,line width=.5pt] (176,78) circle[radius=4];
 \foreach \r in {0,20,...,340}{\draw[ll,line width=.5pt] (176,152) -- ++({\r}:{30} and {17});}
 \fill[black] (176,152) circle[x radius=25,y radius=14];
 \fill[white] (176,152) circle[radius=5];
 \draw[ll,rounded corners=1pt] (66,204) rectangle (108,228);
 \draw[ll] (108,215) -- (240,215);
 \draw[ll] (265,215) circle[x radius=20,y radius=11];
 \foreach \r in {45,135,225,315}{\draw[ll] (265,215) ++({\r}:{20} and {11}) -- ++({\r}:{20} and {10});}
 \draw[ll] (176,245) circle[x radius=17,y radius=11] (176,245) circle[radius=2];
 \foreach \r in {0,90,...,270,45,135,225,315}{\draw[ll] (176,245) ++({\r}:{17} and {11}) -- ++({\r}:{14} and {9});}
 \draw[ll] (92,298) circle[x radius=20,y radius=11];
 \foreach \r in {45,135,225,315}{\draw[ll] (92,298) ++({\r}:{20} and {11}) -- ++({\r}:{24} and {12});}
 \draw[ll] (112,298) -- (235,298);
 \draw[ll] (255,298) circle[x radius=19,y radius=12] (255,279) -- (255,286) (255,310) -- (255,318);
 \draw[ll] (76,375) -- (238,375) (296,357) -- (238,375) -- (296,392);
 \draw[ll] plot[domain=0:360,samples=120] ({178+(34+16*abs(sin(4*\x)))*cos(\x)},{450+(21+10*abs(sin(4*\x)))*sin(\x)}) -- cycle;
 \draw[ll] (165,435) -- (178,450) -- (202,458);
 \draw[ll] (176,493) -- (193,518) -- (243,518) -- (204,535) -- (218,560) -- (176,545) -- (133,560) -- (150,535) -- (118,518) -- (158,518) -- cycle;
 \fill (176,525) circle[radius=2];
 \foreach \r in {0,22.5,...,337.5}{\draw[ll,line width=.22pt] (176,598) -- ++({\r}:{38} and {26});}
 \draw[ll] (118,702) .. controls (135,695) and (140,680) .. (140,650) .. controls (155,645) and (190,640) .. (208,650) .. controls (208,680) and (215,695) .. (232,702);
 \draw[ll] (140,650) .. controls (155,665) and (190,662) .. (196,645);
 \node[sym,font=\fontsize{5.5}{6}\selectfont\itshape] (wv) at (130,748) {WV};
 \draw[ll] (175,735) -- (175,760) -- (240,735) -- (240,760) -- cycle;
 \node[sym,font=\fontsize{5.5}{6}\selectfont\itshape] (gv) at (130,823) {GV};
 \draw[ll] (175,810) -- (175,835) -- (240,810) -- (240,835) -- cycle;
 \draw[ll] (176,896) circle[x radius=17,y radius=12] (176,896) circle[radius=2] (132,896) -- (159,896) (193,896) -- (222,896) (176,868) -- (176,884) (176,908) -- (176,922);
 \draw[ll] (176,968) circle[x radius=20,y radius=13];
 \node[sym,font=\fontsize{4.6}{5}\selectfont] (fp) at (240,967) {FP};
 \draw[ll] (176,1045) circle[x radius=20,y radius=12];
 \draw[ll] (176,1118) circle[x radius=32,y radius=19];
 \node[sym] (dm) at (177,1118) {D};
 \draw[ll] (176,1193) circle[x radius=32,y radius=19];
 \node[sym] (sm) at (177,1193) {S};
 \draw[ll] (147,1254) rectangle (205,1282);
 \draw[ll] (147,1328) rectangle (205,1354) (147,1348) -- (205,1348);
 \draw[ll] (176,1416) circle[x radius=20,y radius=12] (176,1416) circle[radius=1.8];
 \draw[ll] (176,1490) circle[x radius=20,y radius=12] (176,1490) circle[radius=1.8];
\end{scope}

%% ------- legend, right column
\foreach \y/\t in {848/{MONITORING WELL},863.4/{CLEANOUT},878.7/{ADA DETECTABLE WARNING},894/{TRAFFIC CONTROL BOX},909.5/{HANDICAP PARKING},925/{GAS METER},940.4/{ELECTRIC METER},955.7/{ELECTRIC MANHOLE},971/{MISCELANEOUS MANHOLE},986.7/{TELEPHONE MANHOLE},1002/{ELECTRIC SQUARE MANHOLE},1017.4/{SPAN POLE},1032.7/{CROSSWALK SIGNAL POST},1048/{HANDHOLE},1063.3/{DOUBLE SIGN},1078.9/{SIGN},1094.4/{ROCK/BOULDER},1109.7/{MAILBOX},1125/{SPOT GRADE}}
  {\node[leg] at (490.4,\y) {\t};}
\begin{scope}[zr]
 \draw[ll] (136,78) circle[x radius=20,y radius=12] (116,78) -- (156,78) (136,66) -- (136,90);
 \node[sym,font=\fontsize{4.4}{5}\selectfont] (co) at (138,142) {CO};
 \draw[ll] (136,161) circle[x radius=12,y radius=8];
 \draw[ll,line width=.55pt] (74,210) rectangle (198,240);
 \foreach \a/\b in {88/218,112/216,136/218,158/216,182/218,88/232,112/234,136/232,158/234,182/232}{\draw[ll] (\a,\b) circle[x radius=9,y radius=5];}
 \draw[ll,line width=.5pt] (108,288) rectangle (163,304) (108,288) -- (163,304) (108,304) -- (163,288);
 \draw[ll] (136,345) circle[x radius=7,y radius=5] (136,350) -- (136,375) (136,358) -- (160,358) (136,375) -- (165,375) -- (175,390) -- (190,385);
 \draw[ll] (128,362) .. controls (100,375) and (120,400) .. (160,395);
 \node[sym,font=\fontsize{4.6}{5}\selectfont] (gm) at (144,446) {GM};
 \draw[ll] (136,465) circle[x radius=12,y radius=8];
 \node[sym,font=\fontsize{4.6}{5}\selectfont] (em) at (142,517) {EM};
 \draw[ll] (136,537) circle[x radius=12,y radius=8];
 \draw[ll] (136,598) circle[x radius=32,y radius=19];
 \node[sym] (em2) at (136,598) {E};
 \draw[ll,line width=.5pt] (136,672) circle[x radius=33,y radius=20] (136,672) circle[x radius=24,y radius=13];
 \draw[ll] (136,747) circle[x radius=32,y radius=19];
 \node[sym] (tm) at (136,747) {T};
 \draw[ll] (113,806) rectangle (165,836);
 \node[sym,font=\fontsize{5.5}{6}\selectfont\itshape] (es) at (139,821) {E};
 \draw[ll,line width=.5pt] (98,872) rectangle (174,918) (136,895) circle[x radius=38,y radius=23];
 \draw[ll,line width=.5pt] (116,958) rectangle (156,982) (136,970) circle[x radius=20,y radius=12];
 \draw[ll] (108,1030) rectangle (162,1060) (122,1038) rectangle (150,1052) (136,1045) circle[radius=1.5];
 \draw[ll,line width=.5pt] (65,1127) -- (205,1127) (80,1108) rectangle (112,1127) (158,1108) rectangle (190,1127);
 \draw[ll,line width=.5pt] (105,1202) -- (170,1202) (118,1184) rectangle (155,1202);
 \draw[ll,line width=.5pt] (82,1268) .. controls (85,1245) and (105,1238) .. (130,1238) .. controls (160,1240) and (178,1255) .. (176,1280) .. controls (172,1300) and (150,1300) .. (130,1300) .. controls (105,1298) and (80,1295) .. (82,1268) -- cycle;
 \draw[ll] (107,1258) rectangle (152,1285) (118,1258) -- (118,1285) (130,1262) -- (130,1280) (142,1258) -- (142,1285);
 \draw[ll,line width=.5pt] (107,1336) rectangle (160,1350) (145,1336) -- (145,1350) (160,1343) -- (182,1343);
 \node[sym,font=\fontsize{4.2}{5}\selectfont\bfseries\itshape] (sg) at (136,1418) {101.8};
\end{scope}

%% ------- street names
\node[streeti] (meadow) at (1372,61.5) {MEADOW STREET};
\node[streeti,rotate=90] (division) at (1472,251) {DIVISION STREET};
\node[streeti,rotate=90] (park) at (997,281) {PARK};
\node[streeti,rotate=90] (place) at (1012,276) {PLACE};
\node[streeti] (church) at (501,361) {CHURCH STREET};
\node[street,rotate=-82.5] (rubber) at (392,514) {RUBBER STREET};
\node[street,rotate=11] (elm) at (139,538) {ELM STREET};
\node[streeti] (firehouse) at (1117,557) {OLD FIREHOUSE ROAD};
\node[streeti,rotate=84] (maple) at (1334,718) {MAPLE STREET};
\node[streeti,rotate=-15] (water) at (1178,836) {WATER};
\node[streeti,rotate=-15] (waterb) at (1179,851) {STREET};
\node[streeti,rotate=-15] (naug) at (1200,961.5) {NAUGATUCK};
\node[streeti,rotate=-14] (river) at (1381,1002) {RIVER};

%% ------- sheet frames: each run is drawn once, so that the dashes stay open
\coordinate (a1) at (14,277); \coordinate (a2) at (305,277); \coordinate (a3) at (14,601); \coordinate (a4) at (444,601); \coordinate (a5) at (444,445);
\coordinate (b1) at (305,210); \coordinate (b2) at (711,210); \coordinate (b3) at (1124,210); \coordinate (b4) at (1124,445); \coordinate (b5) at (1124,681); \coordinate (b6) at (711,681); \coordinate (b7) at (305,681); \coordinate (b9) at (305,445);
\coordinate (c1) at (1124,82); \coordinate (c2) at (1535,82); \coordinate (c3) at (1535,395); \coordinate (c4) at (1124,395);
\coordinate (d1) at (1441,395); \coordinate (d2) at (1441,794); \coordinate (d3) at (1124,794);
\coordinate (e1) at (1140,793); \coordinate (e2) at (1466,793); \coordinate (e3) at (1466,1172); \coordinate (e4) at (1140,1172);
\draw[frame] (a2) -- (a1) -- (a3) -- (a4) -- (a5);
\draw[frame] (b7) -- (b1) -- (b3);
\draw[frame] (b7) -- (b5);
\draw[frame] (b9) -- (b4);
\draw[frame] (b2) -- (b6);
\draw[frame] (c1) -- (d3) -- (d2) -- (d1);
\draw[frame] (c1) -- (c2) -- (c3) -- (c4);
\draw[frame] (e1) -- (e2) -- (e3) -- (e4) -- cycle;

%% ------- sheet names
\node[sheet] (ext1) at (161,440) {EXT-01};
\node[sheet] (ext2) at (508,328) {EXT-02};
\node[sheet] (ext3) at (917.5,328) {EXT-03};
\node[sheet] (ext4) at (1329,239) {EXT-04};
\node[sheet,rotate=-90] (ext5) at (1283,595) {EXT-05};
\node[sheet,rotate=-90] (ext6) at (1303.5,983) {EXT-06};
\node[sheet] (ext7) at (508,563.5) {EXT-07};
\node[sheet] (ext8) at (917.5,563.5) {EXT-08};
\end{tikzpicture}
\end{document}
